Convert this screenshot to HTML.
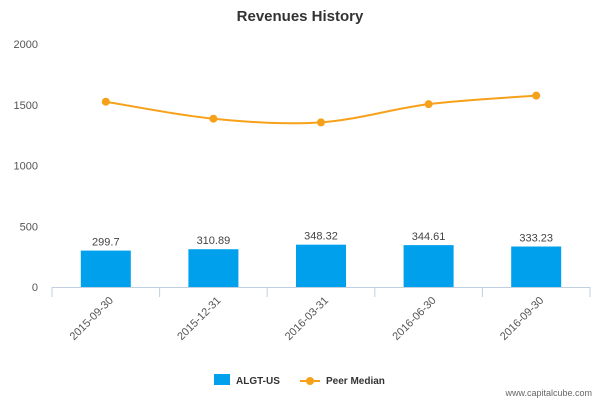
<!DOCTYPE html>
<html><head><meta charset="utf-8"><style>
body{margin:0;background:#fff;font-family:"Liberation Sans",sans-serif}
svg text{font-family:"Liberation Sans",sans-serif}
</style></head><body>
<svg id="c" width="600" height="400" xmlns="http://www.w3.org/2000/svg">
<text x="300" y="21" text-anchor="middle" font-size="15" font-weight="bold" fill="#333">Revenues History</text>
<g id="grid"></g><g id="bars"></g><g id="line"></g><g id="xl"></g>
<g>
<rect x="214" y="374" width="16" height="11" fill="#00a0ed"/>
<text x="236" y="384" font-size="10" font-weight="bold" fill="#333">ALGT-US</text>
<line x1="300" y1="381" x2="320" y2="381" stroke="#f7a11a" stroke-width="2"/>
<circle cx="310" cy="381" r="4" fill="#f7a11a"/>
<text x="326" y="384" font-size="10" font-weight="bold" fill="#333">Peer Median</text>
</g>
<text x="592" y="396" text-anchor="end" font-size="9" fill="#666">www.capitalcube.com</text>
</svg>
<script>
const categories=["2015-09-30","2015-12-31","2016-03-31","2016-06-30","2016-09-30"];
const revenues=[299.7,310.89,348.32,344.61,333.23];
const revenueLabels=["299.7","310.89","348.32","344.61","333.23"];
const peerMedian=[1525,1385,1355,1505,1575];
const yTicks=[0,500,1000,1500,2000];
const NS="http://www.w3.org/2000/svg";
const x0=52,x1=590,yB=287,yT=44,ymax=2000;
const bw=(x1-x0)/categories.length;
const X=i=>x0+bw*(i+0.5);
const Y=v=>yB-(v/ymax)*(yB-yT);
function mk(t,a,p){const e=document.createElementNS(NS,t);for(const k in a)e.setAttribute(k,a[k]);p.appendChild(e);return e;}
const g=document.getElementById('grid');
yTicks.forEach(v=>{const t=mk('text',{x:38,y:Y(v)+4,'text-anchor':'end','font-size':11,fill:'#555'},g);t.textContent=v;

});
const ax=mk('line',{x1:x0,y1:yB+0.5,x2:x1,y2:yB+0.5,stroke:'#c0d0e0'},g);


for(let i=0;i<=categories.length;i++){mk('line',{x1:x0+bw*i,y1:yB,x2:x0+bw*i,y2:yB+10,stroke:'#c0d0e0'},g);}
const b=document.getElementById('bars');
revenues.forEach((v,i)=>{const r=mk('rect',{x:X(i)-25,y:Y(v),width:50,height:yB-Y(v),fill:'#00a0ed'},b);


const t=mk('text',{x:X(i),y:Y(v)-5,'text-anchor':'middle','font-size':11,fill:'#444'},b);t.textContent=revenueLabels[i];

});
const l=document.getElementById('line');
const pts=peerMedian.map((v,i)=>[X(i),Y(v)]);
let d='M'+pts[0];
for(let i=0;i<pts.length-1;i++){const p0=pts[Math.max(0,i-1)],p1=pts[i],p2=pts[i+1],p3=pts[Math.min(pts.length-1,i+2)];
const c1=[p1[0]+(p2[0]-p0[0])/6,p1[1]+(p2[1]-p0[1])/6],c2=[p2[0]-(p3[0]-p1[0])/6,p2[1]-(p3[1]-p1[1])/6];
d+=' C'+c1+' '+c2+' '+p2;}
const path=mk('path',{d:d,fill:'none',stroke:'#f7a11a','stroke-width':2},l);


pts.forEach((p,i)=>{const c=mk('circle',{cx:p[0],cy:p[1],r:4,fill:'#f7a11a'},l);

});
const xl=document.getElementById('xl');
categories.forEach((c,i)=>{const t=mk('text',{x:X(i)+8,y:yB+14,'text-anchor':'end','font-size':11,fill:'#555',transform:`rotate(-45 ${X(i)+8} ${yB+14})`},xl);t.textContent=c;

});
</script>
</body></html>
